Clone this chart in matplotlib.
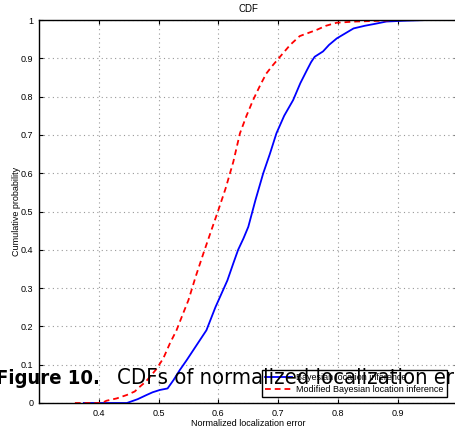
import matplotlib
matplotlib.use("Agg")
import matplotlib.pyplot as plt

# ---- data ----
bayes_x = [0.375, 0.447, 0.465, 0.48, 0.49, 0.502, 0.515, 0.525, 0.535, 0.547, 0.558, 0.569,
           0.58, 0.588, 0.595, 0.603, 0.615, 0.625, 0.633, 0.642, 0.65, 0.662, 0.675, 0.686,
           0.697, 0.71, 0.725, 0.737, 0.748, 0.755, 0.761, 0.775, 0.785, 0.798, 0.812, 0.826,
           0.845, 0.862, 0.881, 0.91, 0.95, 1.0]
bayes_y = [0, 0, 0.01, 0.021, 0.028, 0.034, 0.038, 0.06, 0.085, 0.112, 0.138, 0.164,
           0.19, 0.222, 0.25, 0.278, 0.32, 0.365, 0.4, 0.43, 0.46, 0.53, 0.60, 0.65,
           0.704, 0.75, 0.791, 0.835, 0.869, 0.89, 0.904, 0.918, 0.935, 0.952, 0.965, 0.978,
           0.985, 0.99, 0.996, 0.998, 1.0, 1.0]

mod_x = [0.36, 0.405, 0.413, 0.43, 0.447, 0.46, 0.469, 0.478, 0.486, 0.497, 0.508, 0.519,
         0.53, 0.54, 0.55, 0.562, 0.575, 0.588, 0.6, 0.612, 0.625, 0.636, 0.647, 0.658,
         0.67, 0.68, 0.69, 0.703, 0.72, 0.736, 0.75, 0.764, 0.78, 0.798, 0.83, 0.87, 0.9, 1.0]
mod_y = [0, 0, 0.006, 0.012, 0.021, 0.03, 0.043, 0.055, 0.069, 0.09, 0.117, 0.156,
         0.19, 0.23, 0.269, 0.33, 0.391, 0.45, 0.504, 0.56, 0.63, 0.704, 0.75, 0.791,
         0.83, 0.86, 0.88, 0.904, 0.935, 0.958, 0.966, 0.974, 0.985, 0.993, 0.996, 0.998, 1.0, 1.0]

series_labels = ["Bayesian location inference", "Modified Bayesian location inference"]
x_ticks = [0.4, 0.5, 0.6, 0.7, 0.8, 0.9, 1.0]
x_tick_labels = ["0.4", "0.5", "0.6", "0.7", "0.8", "0.9", "1"]
y_ticks = [0, 0.1, 0.2, 0.3, 0.4, 0.5, 0.6, 0.7, 0.8, 0.9, 1.0]
y_tick_labels = ["0", "0.1", "0.2", "0.3", "0.4", "0.5", "0.6", "0.7", "0.8", "0.9", "1"]
title = "CDF"
x_label = "Normalized localization error"
y_label = "Cumulative probability"
caption_bold = "Figure 10."
caption_rest = "CDFs of normalized localization error"

W, H = 455, 430
fig = plt.figure(figsize=(W / 100, H / 100), dpi=100)
ax_w = 418.6
ax = fig.add_axes([39 / W, (H - 403) / H, ax_w / W, 383 / H])

font = ["Liberation Sans", "DejaVu Sans"]
ax.plot(bayes_x, bayes_y, color="#0000ff", lw=1.3, ls="-", label=series_labels[0])
ax.plot(mod_x, mod_y, color="#ff0000", lw=1.3, ls=(0, (3.2, 2.2)), label=series_labels[1])

ax.set_xlim(0.3, 1.0)
ax.set_ylim(0, 1)
ax.set_xticks(x_ticks)
ax.set_xticklabels(x_tick_labels, fontsize=6.5, family=font)
ax.set_yticks(y_ticks)
ax.set_yticklabels(y_tick_labels, fontsize=6.5, family=font)
ax.tick_params(direction="in", length=3, width=0.8, top=True, right=True, pad=4)
ax.grid(True, color="#999999", ls=(0, (1, 3)), lw=0.8)
for s in ax.spines.values():
    s.set_linewidth(1.0)

ax.set_title(title, fontsize=7, family=font, pad=5.5)
ax.set_xlabel(x_label, fontsize=6.5, family=font, labelpad=1)
ax.set_ylabel(y_label, fontsize=6.5, family=font, labelpad=0)

leg = ax.legend(loc="lower right", prop={"family": font, "size": 6.5},
                frameon=True, fancybox=False, framealpha=1, edgecolor="black",
                handlelength=3.0, borderpad=0.35, labelspacing=0.35, handletextpad=0.45,
                borderaxespad=0,
                bbox_to_anchor=((447 - 39) / ax_w, 6 / 383))
leg.get_frame().set_linewidth(1.0)

# caption overlay
cap_font = ["DejaVu Sans"]
fig.text(-4 / W, (H - 384) / H, caption_bold, fontsize=14.5, fontweight="bold",
         family=cap_font, fontstretch="condensed", va="baseline", ha="left")
fig.text(117 / W, (H - 384) / H, caption_rest, fontsize=15.8,
         family=cap_font, fontstretch="condensed", va="baseline", ha="left")

fig.savefig("out.png", dpi=100)
